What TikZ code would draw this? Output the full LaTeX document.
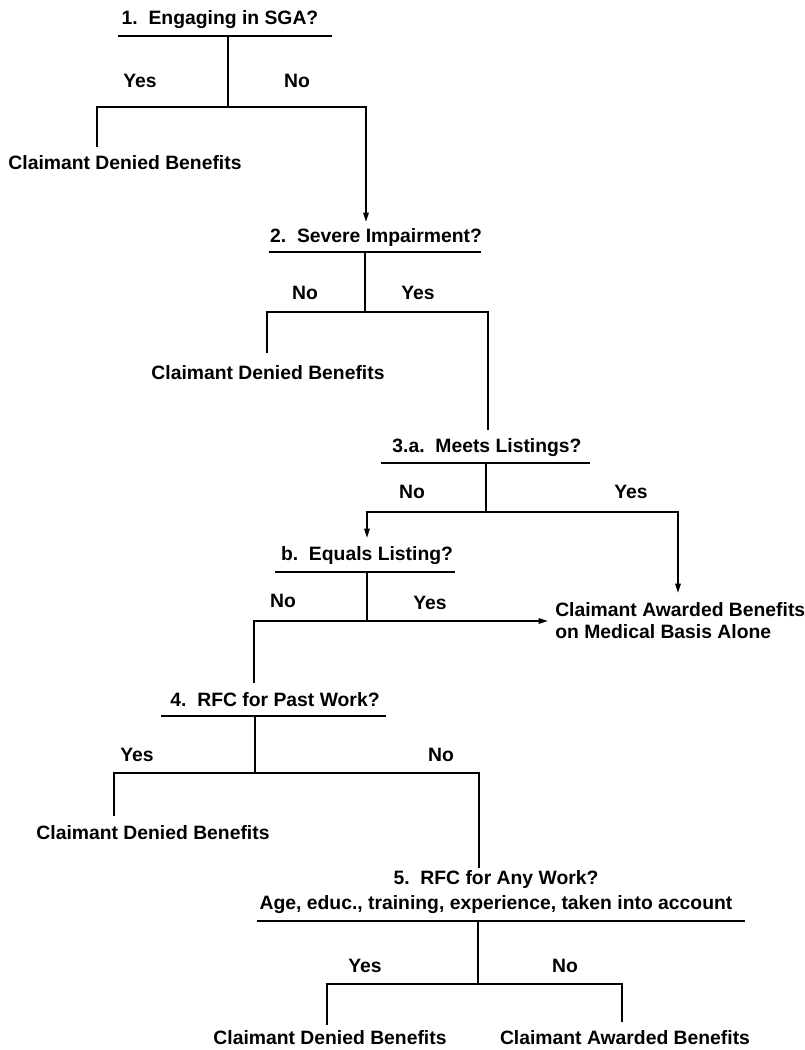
\documentclass[tikz,border=0pt]{standalone}
\usepackage{fontspec}
\setmainfont{Liberation Sans}
\usetikzlibrary{arrows.meta}
\begin{document}
\begin{tikzpicture}[x=0.75pt,y=-0.75pt,
  lbl/.style={font=\bfseries\fontsize{14.5}{16.5}\selectfont, inner sep=0pt, anchor=base},
  ln/.style={line width=1.3pt, line cap=butt},
  arr/.style={ln, -{Triangle[length=7pt,width=4pt]}}]
\fill[white] (0,0) rectangle (805,1050);
\useasboundingbox (0,0) rectangle (805,1050);

% ---------- Step 1 ----------
\node[lbl] (q1) at (220,24) {1.~~Engaging in SGA?};
\coordinate (u1a) at (118,36); \coordinate (u1b) at (332,36);
\coordinate (s1) at (228,36); \coordinate (j1) at (228,107);
\node[lbl] (yes1) at (140,87) {Yes};
\node[lbl] (no1) at (297,87) {No};
\node[lbl] (d1) at (125,169) {Claimant Denied Benefits};
\coordinate (d1t) at (97,147);
\coordinate (q2t) at (366,222);
\draw[ln] (u1a) -- (u1b);
\draw[ln] (s1) -- (j1);
\draw[ln] (j1) -| (d1t);
\draw[arr] (j1) -| (q2t);

% ---------- Step 2 ----------
\node[lbl] (q2) at (376,242) {2.~~Severe Impairment?};
\coordinate (u2a) at (269,252); \coordinate (u2b) at (481,252);
\coordinate (s2) at (365,252); \coordinate (j2) at (365,312);
\node[lbl] (no2) at (305,299) {No};
\node[lbl] (yes2) at (418,299) {Yes};
\node[lbl] (d2) at (268,379) {Claimant Denied Benefits};
\coordinate (d2t) at (267,353);
\coordinate (q3t) at (488,430);
\draw[ln] (u2a) -- (u2b);
\draw[ln] (s2) -- (j2);
\draw[ln] (j2) -| (d2t);
\draw[ln] (j2) -| (q3t);

% ---------- Step 3a ----------
\node[lbl] (q3) at (487,452) {3.a.~~Meets Listings?};
\coordinate (u3a) at (381,463); \coordinate (u3b) at (590,463);
\coordinate (s3) at (486,463); \coordinate (j3) at (486,512);
\node[lbl] (no3) at (412,498) {No};
\node[lbl] (yes3) at (631,498) {Yes};
\coordinate (qbt) at (367,538);
\coordinate (a1t) at (678,593);
\draw[ln] (u3a) -- (u3b);
\draw[ln] (s3) -- (j3);
\draw[arr] (j3) -| (qbt);
\draw[arr] (j3) -| (a1t);

% ---------- Step 3b ----------
\node[lbl] (qb) at (367,560) {b.~~Equals Listing?};
\coordinate (uba) at (275,572); \coordinate (ubb) at (455,572);
\coordinate (sb) at (367,572); \coordinate (jb) at (367,621);
\node[lbl] (nob) at (283,607) {No};
\node[lbl] (yesb) at (430,609) {Yes};
\node[lbl, anchor=west, align=left] (a1) at (555,621) {Claimant Awarded Benefits\\on Medical Basis Alone};
\coordinate (a1l) at (548,621);
\coordinate (q4t) at (254,683);
\draw[ln] (uba) -- (ubb);
\draw[ln] (sb) -- (jb);
\draw[arr] (jb) -- (a1l);
\draw[ln] (jb) -| (q4t);

% ---------- Step 4 ----------
\node[lbl] (q4) at (275,706) {4.~~RFC for Past Work?};
\coordinate (u4a) at (161,716); \coordinate (u4b) at (386,716);
\coordinate (s4) at (255,716); \coordinate (j4) at (255,773);
\node[lbl] (yes4) at (137,761) {Yes};
\node[lbl] (no4) at (441,761) {No};
\node[lbl] (d4) at (153,839) {Claimant Denied Benefits};
\coordinate (d4t) at (114,816);
\coordinate (q5t) at (479,868);
\draw[ln] (u4a) -- (u4b);
\draw[ln] (s4) -- (j4);
\draw[ln] (j4) -| (d4t);
\draw[ln] (j4) -| (q5t);

% ---------- Step 5 ----------
\node[lbl, anchor=center, align=center, font=\bfseries\fontsize{14.5}{18.75}\selectfont] (q5) at (496,892)
  {5.~~RFC for Any Work?\\Age, educ., training, experience, taken into account};
\coordinate (u5a) at (257,921); \coordinate (u5b) at (745,921);
\coordinate (s5) at (478,921); \coordinate (j5) at (478,984);
\node[lbl] (yes5) at (365,972) {Yes};
\node[lbl] (no5) at (565,972) {No};
\node[lbl] (d5) at (330,1044) {Claimant Denied Benefits};
\node[lbl] (a2) at (625,1044) {Claimant Awarded Benefits};
\coordinate (d5t) at (327,1025);
\coordinate (a2t) at (622,1022);
\draw[ln] (u5a) -- (u5b);
\draw[ln] (s5) -- (j5);
\draw[ln] (j5) -| (d5t);
\draw[ln] (j5) -| (a2t);
\end{tikzpicture}
\end{document}
